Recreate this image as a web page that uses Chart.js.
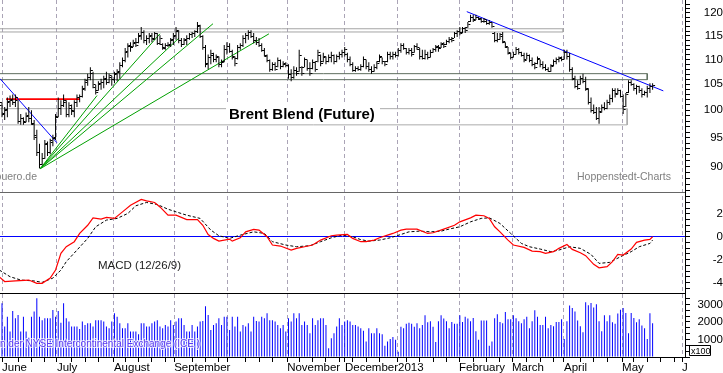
<!DOCTYPE html>
<html>
<head>
<meta charset="utf-8">
<script src="https://cdn.jsdelivr.net/npm/chart.js@4.4.1/dist/chart.umd.min.js"></script>
<style>
html, body { margin: 0; padding: 0; background: #fff; }
canvas { display: block; }
</style>
</head>
<body>
<canvas id="brent" width="723" height="373"></canvas>
<script>
// Brent Blend (Future) - daily bars, trading-day index (0 = 1 June 2012)
const firstDay = -1;

const highs = [
  102.4,101.5,100.6,102.4,102.8,103.0,103.0,101.9,99.3,98.7,
  99.6,100.6,100.0,98.2,96.4,93.9,92.3,94.6,94.3,94.8,
  95.5,99.3,102.4,101.9,103.0,101.9,101.5,101.1,101.9,103.0,
  103.0,104.7,106.1,107.1,108.4,107.5,104.9,105.6,106.1,106.7,
  107.5,107.1,106.7,107.5,108.0,109.4,110.4,112.4,113.4,113.6,
  114.1,114.5,115.6,116.9,116.2,115.1,115.6,115.6,115.8,115.6,
  115.1,113.4,113.4,113.6,114.5,115.6,116.9,116.2,114.5,114.5,
  115.1,115.6,115.8,116.2,118.0,117.4,115.1,113.0,111.0,112.0,
  111.4,111.0,110.6,110.0,113.0,113.6,113.4,112.0,110.6,113.0,
  113.4,115.1,115.6,116.2,116.2,115.6,114.7,114.5,113.4,112.4,
  111.0,110.0,109.4,109.4,110.4,110.0,109.6,109.4,109.0,108.0,
  108.6,108.4,112.0,108.6,110.4,110.0,109.4,110.0,109.6,112.0,
  111.0,111.4,110.6,111.0,111.6,111.0,111.0,111.6,112.0,112.6,
  111.4,110.6,109.4,108.6,108.6,109.0,110.6,110.0,109.4,108.6,
  109.0,109.6,111.0,110.4,109.6,111.6,111.6,111.6,111.6,112.4,
  113.4,113.4,112.4,112.4,112.4,113.0,113.4,112.4,112.0,112.0,
  111.6,112.0,112.4,113.0,113.0,113.6,113.6,114.1,114.7,114.7,
  115.8,116.2,116.9,116.9,116.9,118.0,119.6,119.6,119.6,119.1,
  118.9,118.9,118.4,118.4,118.0,115.8,115.6,115.6,115.8,113.6,
  112.6,111.4,111.6,112.6,112.4,111.6,111.4,111.4,111.0,110.4,
  109.4,110.6,110.0,109.6,109.0,108.4,109.0,110.0,110.4,110.6,
  110.6,112.0,112.0,111.4,108.4,106.7,105.8,106.7,107.1,106.5,
  104.2,102.4,101.1,100.6,100.6,101.1,101.5,102.0,103.0,104.2,
  104.2,104.2,103.9,103.0,103.3,105.8,105.8,105.2,104.9,104.7,
  104.2,103.7,104.7,105.2,105.2
];
const lows = [
  97.8,98.7,98.2,98.7,100.6,101.0,100.6,97.5,97.3,97.3,
  97.8,97.8,97.3,94.6,91.8,89.7,90.2,91.3,91.8,92.1,
  93.5,94.6,98.7,99.1,100.6,98.7,98.7,99.1,98.7,100.6,
  101.5,102.4,103.7,104.7,105.8,104.2,103.0,103.7,103.9,104.2,
  104.9,105.2,104.7,105.2,105.6,106.1,108.4,109.4,110.4,111.6,
  112.6,112.6,113.4,114.1,113.4,113.0,113.4,113.6,114.1,113.0,
  113.0,112.0,112.0,112.6,112.6,113.0,114.1,113.4,112.6,113.0,
  113.0,114.1,114.5,114.7,115.6,114.5,112.0,108.4,108.0,109.0,
  109.4,109.4,108.4,108.4,109.4,111.0,111.4,110.0,108.6,110.0,
  112.0,112.6,113.4,114.1,114.5,113.4,113.0,112.6,111.6,110.6,
  109.4,107.5,107.7,107.7,108.4,108.0,108.4,108.4,106.1,105.6,
  106.1,106.7,107.5,106.7,108.4,107.7,106.7,108.0,107.5,109.4,
  108.6,109.4,109.0,109.4,109.4,109.0,109.4,110.0,110.4,110.6,
  109.4,108.6,107.5,107.5,107.7,107.7,108.4,108.0,107.5,107.1,
  107.5,108.0,109.4,109.0,108.6,109.4,110.0,110.0,110.4,110.6,
  111.4,112.0,111.0,111.0,110.6,111.4,112.0,110.0,110.0,110.0,
  110.0,110.4,111.4,111.6,111.6,112.4,112.4,113.0,113.4,113.6,
  114.5,114.7,115.1,115.6,115.6,116.7,118.0,118.0,118.4,118.4,
  117.8,117.8,117.4,117.4,116.7,113.6,113.6,114.1,113.4,112.4,
  111.0,110.0,110.4,111.0,111.0,110.6,109.4,110.0,109.4,108.6,
  108.0,109.0,108.4,108.0,107.7,107.5,107.5,108.6,109.0,109.4,
  109.6,110.0,110.0,107.5,105.8,104.2,103.9,104.9,105.2,103.7,
  101.1,99.6,99.3,98.2,97.5,99.6,100.0,100.2,101.0,101.5,
  102.4,103.0,102.4,99.3,100.6,103.3,104.7,103.7,103.0,103.3,
  102.4,102.8,102.4,103.3,103.9
];
const opens = [
  98.5,101.0,99.3,100.0,101.5,102.0,101.5,102.0,98.0,98.5,
  98.0,99.0,98.5,97.5,95.5,92.5,90.5,91.5,93.8,92.5,
  94.5,95.0,99.0,100.5,101.0,101.6,99.3,100.5,100.0,101.5,
  102.5,102.8,104.0,105.5,106.5,107.2,104.5,103.9,105.0,105.5,
  106.0,105.5,106.5,106.0,107.0,107.5,108.8,109.8,111.5,112.8,
  112.8,113.5,113.6,115.0,115.8,114.0,114.6,115.0,114.5,115.5,
  113.5,113.2,112.5,113.0,113.0,114.0,115.0,116.0,114.0,113.2,
  114.0,114.6,115.3,115.5,116.0,117.0,115.0,112.5,109.0,110.5,
  111.0,110.0,110.5,109.0,109.5,112.2,112.8,111.8,110.5,110.2,
  112.5,113.0,114.6,115.2,115.8,115.0,114.0,113.6,113.0,112.0,
  110.8,109.8,108.0,109.0,108.6,109.8,108.6,109.0,108.8,107.0,
  106.5,107.8,107.6,108.5,108.5,110.0,108.2,108.2,109.4,109.6,
  111.0,109.6,110.5,109.6,110.4,111.0,109.6,110.6,111.2,111.6,
  111.2,110.0,109.0,107.8,108.2,108.0,108.6,110.0,108.6,108.0,
  107.6,108.4,109.6,110.4,109.6,109.6,111.2,110.8,111.2,111.0,
  112.0,113.0,112.4,111.6,112.0,111.6,112.8,112.2,110.6,110.2,
  111.2,110.5,111.6,112.2,112.6,112.6,113.2,113.2,113.8,114.3,
  114.6,115.5,116.0,115.8,116.6,116.8,118.2,119.2,118.6,119.0,
  118.6,118.2,118.3,117.8,118.0,115.6,114.0,114.2,115.4,113.6,
  112.6,111.4,110.5,111.2,112.2,111.6,111.0,110.0,111.0,109.8,
  109.0,109.2,110.0,109.0,108.4,108.0,107.7,108.8,109.6,110.0,
  110.2,110.0,111.6,110.6,108.0,106.0,104.6,105.0,106.3,105.6,
  104.0,101.5,100.0,99.6,98.6,99.8,100.6,100.4,101.6,102.4,
  103.8,103.2,103.8,102.8,100.8,103.4,105.4,105.0,104.2,104.6,
  103.8,103.0,103.4,104.2,104.6
];
const closes = [
  101.5,99.5,100.2,101.8,102.2,101.5,102.5,98.0,98.6,97.8,
  99.2,98.5,97.6,95.2,92.5,90.5,91.5,94.0,92.5,94.3,
  95.2,98.8,100.5,101.0,102.0,99.3,101.0,99.8,101.5,102.5,
  102.8,104.2,105.8,106.5,107.8,105.0,103.5,105.2,105.5,106.3,
  105.5,106.8,106.0,107.2,107.6,108.8,109.8,111.8,113.0,112.5,
  113.6,113.0,115.2,115.8,114.0,114.6,115.2,114.3,115.5,113.5,
  114.5,112.4,113.0,113.2,114.2,115.2,116.3,114.0,113.2,114.2,
  114.6,115.3,115.6,116.0,117.3,115.0,112.6,109.2,110.4,111.3,
  110.0,110.6,109.0,109.6,112.2,112.8,111.8,110.6,109.2,112.5,
  113.0,114.6,115.2,115.8,115.0,114.0,113.6,113.0,112.0,111.0,
  109.8,108.0,109.0,108.0,109.8,108.6,109.2,108.8,107.0,106.5,
  107.8,107.2,111.0,107.2,110.0,108.2,107.2,109.4,108.0,111.5,
  109.2,110.6,109.6,110.4,111.0,109.6,110.6,111.2,111.6,112.2,
  110.0,109.0,107.8,108.2,108.0,108.6,110.0,108.6,108.0,107.6,
  108.4,109.2,110.6,109.6,109.0,111.2,110.8,111.2,111.0,112.0,
  113.0,112.4,111.6,112.0,111.2,112.8,112.6,110.6,110.2,111.2,
  110.4,111.6,112.2,112.8,112.4,113.4,112.8,113.8,114.3,114.0,
  115.5,116.0,115.6,116.6,116.2,117.6,119.2,118.4,119.2,118.8,
  118.2,118.6,117.8,118.0,117.0,114.0,114.2,115.0,113.8,112.8,
  111.6,110.4,111.2,112.2,111.6,111.0,109.8,111.0,109.8,109.0,
  108.4,110.2,109.0,108.4,108.0,107.7,108.6,109.6,110.0,110.4,
  110.0,111.6,110.6,108.0,106.2,104.6,104.2,106.3,105.6,104.2,
  101.5,100.0,99.6,98.6,99.6,100.6,100.4,101.6,102.4,103.8,
  103.0,103.8,102.8,100.2,103.0,105.4,105.0,104.2,104.6,103.8,
  103.0,103.4,104.2,104.6,104.8
];
// volume in contracts x100
const volumes = [
  1800,3070,1740,2300,1450,2630,2210,2400,1450,2300,
  1450,1100,2300,2590,3350,2300,2100,2210,2210,2210,
  2680,2300,2630,1950,3070,2210,2020,1740,1740,1740,
  1600,2020,1830,1930,1930,1740,2100,2100,2100,2020,
  1740,1640,2020,2500,2300,1930,1640,1640,1930,1450,
  1450,1450,1300,1930,1930,1740,1740,1930,2020,2100,
  1740,1640,1830,1740,2100,1830,2020,2210,2210,1830,
  1450,1450,1830,1450,1740,2020,2060,2900,2400,1540,
  1830,1930,2210,1830,2300,2300,1540,2300,1740,2300,
  1450,1830,1740,1930,1450,2300,2060,2020,2300,2210,
  2500,2100,2100,2020,1830,1640,1830,1450,2210,2020,
  2500,2210,2500,1830,2020,1830,1360,2210,1830,2100,
  2210,2210,1830,500,1070,1360,1740,2210,1830,2020,
  2100,2020,1830,1830,1740,1640,1500,880,1640,1360,
  1360,1640,1360,1300,640,880,1030,1140,980,300,
  1720,1640,1900,1950,1900,1720,1930,1640,1830,2380,
  1980,2040,1720,850,2040,2380,2190,2040,1640,2000,
  1900,1900,2380,2000,2290,2190,2040,2230,1470,980,
  2080,2080,2080,640,880,2210,2440,2000,1930,2570,
  2150,2150,2380,2210,2040,1930,2150,2290,1640,2040,
  2670,2290,1830,1830,2290,1640,1830,1760,2000,2000,
  2150,1030,2040,2930,2790,2590,2080,1760,1410,3120,
  2950,3080,2830,3010,2040,1470,2380,2040,2380,1980,
  1900,2480,2690,2790,2510,1360,2510,2230,1980,2150,
  1790,1640,1030,2490,1930
];

// MACD (12/26/9)
const macdDays = [-1,1,5,10,13,15,18,20,22,24,27,29,32,34,37,39,42,45,48,52,54,57,59,62,65,69,73,75,77,79,
  81,85,86,89,91,94,96,99,101,104,108,110,113,116,119,123,125,129,131,134,136,139,141,144,146,149,151,155,159,161,
  165,169,171,175,177,180,182,184,186,189,191,195,198,201,203,206,208,211,213,216,218,221,223,226,228,230,232,235,237,240,242,243];
const macdLine = [-3.5,-3.9,-3.85,-3.77,-4.06,-4.06,-3.6,-2.9,-1.45,-0.87,-0.43,0.29,1.0,1.65,1.54,1.68,1.6,2.17,2.75,3.25,
  3.13,2.99,2.6,1.88,1.88,1.5,1.5,1.0,0.2,-0.14,-0.38,-0.2,-0.38,-0.09,0.43,0.64,0.58,0,-0.72,-0.81,
  -1.16,-1.01,-0.87,-0.72,-0.29,0.09,0.14,0.2,-0.14,-0.43,-0.43,-0.29,-0.09,0.14,0.29,0.58,0.67,0.67,0.29,0.35,
  0.67,1.0,1.3,1.65,1.88,1.83,1.6,0.87,0.43,-0.29,-0.72,-0.93,-1.25,-1.3,-1.45,-1.3,-1.01,-0.67,-1.1,-1.39,
  -1.65,-2.4,-2.7,-2.6,-2.17,-1.54,-1.59,-1.07,-0.49,-0.29,-0.23,0];
const signalDays = [-1,3,7,12,15,19,22,24,28,32,35,39,43,47,50,54,58,62,65,69,74,78,81,85,89,94,98,101,106,110,
  115,119,123,127,131,134,137,141,145,149,152,156,160,164,167,171,175,179,182,186,190,194,197,201,205,208,212,216,220,223,
  227,231,235,238,242,243];
const signalLine = [-2.9,-3.48,-3.77,-3.85,-3.97,-3.6,-2.9,-2.17,-1.16,-0.14,0.87,1.45,1.6,2.03,2.7,2.99,2.81,2.4,2.17,1.88,
  1.6,0.58,0.09,-0.14,0.14,0.43,0.29,-0.43,-0.72,-0.87,-0.78,-0.43,-0.09,0.14,0,-0.25,-0.38,-0.29,-0.09,0.2,
  0.43,0.49,0.43,0.49,0.67,0.87,1.3,1.6,1.65,1.16,0.29,-0.58,-0.87,-1.07,-1.3,-1.16,-0.87,-1.01,-1.54,-2.32,
  -2.23,-1.74,-1.3,-0.87,-0.58,-0.29];

// drawn-in analysis: zones, fan, trend lines
const zoneTop = [116.5, 107.1, 100.3];
const zoneBottom = [115.8, 105.9, 97.3];
const zoneEnd = [209.6, 241.0, 233.5];
const zoneColors = ['#a4a4a4', '#5e6e5e', '#ababab'];
const fanOrigin = [14.2, 89.6];
const fanEndDays = [35.5, 59.0, 66.1, 78.8, 99.7];
const fanEndPrices = [102.8, 115.4, 114.5, 117.6, 115.4];
const trendDays = [[-0.75, 20.5], [173.6, 247.0]];
const trendPrices = [[106.1, 94.1], [120.3, 103.7]];
const redDays = [1.5, 29.1];
const redPrice = 102.1;

// axes
const monthTicks = [0, 20.5, 41.8, 64.3, 84.4, 106.5, 128.1, 147.9, 170.7, 190.5, 209.9, 231.6, 254];
const monthLabels = ['June', 'July', 'August', 'September', '', 'November', 'December', '2013', 'February', 'March', 'April', 'May', 'J'];
const priceLabels = [90, 95, 100, 105, 110, 115, 120];
const macdLabels = [-4, -2, 0, 2];

const FONT = "'Liberation Sans', Arial, sans-serif";

const xTicks = monthTicks.slice();
for (let d = 1; d < 255; d += 5) {
  if (!monthTicks.some(m => Math.abs(m - d) < 2)) xTicks.push(d);
}
xTicks.sort((a, b) => a - b);
const priceTicks = [];
for (let p = 86; p <= 122; p++) priceTicks.push(p);
const macdTicks = [];
for (let k = -9; k <= 7; k++) macdTicks.push(k / 2);
const volTicks = [];
for (let k = 0; k <= 10; k++) volTicks.push(k * 1000 / 3);

const datasets = [];
datasets.push({
  type: 'bar', yAxisID: 'yP', grouped: false, barThickness: 1, inflateAmount: 0, backgroundColor: '#000',
  data: highs.map((h, k) => ({ x: firstDay + k, y: [lows[k], h] }))
});
datasets.push({
  type: 'line', yAxisID: 'yM', borderColor: '#ff0000', borderWidth: 1.2, pointRadius: 0,
  data: macdDays.map((d, k) => ({ x: d, y: macdLine[k] }))
});
datasets.push({
  type: 'line', yAxisID: 'yM', borderColor: '#000', borderWidth: 1, borderDash: [3, 2], pointRadius: 0,
  data: signalDays.map((d, k) => ({ x: d, y: signalLine[k] }))
});
datasets.push({
  type: 'bar', yAxisID: 'yV', grouped: false, barThickness: 1, inflateAmount: 0, backgroundColor: '#0000ff',
  data: volumes.map((v, k) => ({ x: firstDay + k, y: v }))
});
trendDays.forEach((d, k) => datasets.push({
  type: 'line', yAxisID: 'yP', borderColor: '#0000ff', borderWidth: 1, pointRadius: 0,
  data: [{ x: d[0], y: trendPrices[k][0] }, { x: d[1], y: trendPrices[k][1] }]
}));
fanEndDays.forEach((d, k) => datasets.push({
  type: 'line', yAxisID: 'yP', borderColor: '#00a000', borderWidth: 1, pointRadius: 0,
  data: [{ x: fanOrigin[0], y: fanOrigin[1] }, { x: d, y: fanEndPrices[k] }]
}));
datasets.push({
  type: 'line', yAxisID: 'yP', borderColor: '#ff0000', borderWidth: 1.6, pointRadius: 0,
  data: [{ x: redDays[0], y: redPrice }, { x: redDays[1], y: redPrice }]
});
zoneTop.forEach((t, k) => datasets.push({
  type: 'line', yAxisID: 'yP', borderColor: zoneColors[k], borderWidth: 1, pointRadius: 0,
  data: [{ x: -0.75, y: t }, { x: zoneEnd[k], y: t }, { x: zoneEnd[k], y: zoneBottom[k] }, { x: -0.75, y: zoneBottom[k] }]
}));

const overlay = {
  id: 'overlay',
  afterDatasetsDraw(chart) {
    const { ctx, chartArea: a, scales: { x, yP, yM } } = chart;
    ctx.save();
    // open / close ticks
    ctx.fillStyle = '#000';
    for (let k = 0; k < closes.length; k++) {
      const px = x.getPixelForValue(firstDay + k);
      ctx.fillRect(px - 2.5, Math.round(yP.getPixelForValue(opens[k])), 2, 1);
      ctx.fillRect(px + 0.5, Math.round(yP.getPixelForValue(closes[k])), 2, 1);
    }
    // panel separators
    ctx.fillStyle = '#666';
    ctx.fillRect(a.left, Math.round(yP.bottom), a.right - a.left, 1);
    ctx.fillStyle = '#000';
    ctx.fillRect(a.left, Math.round(yM.bottom), a.right - a.left, 1);
    // title
    ctx.fillStyle = '#fff';
    ctx.fillRect(226, 103, 154, 21);
    ctx.fillStyle = '#000';
    ctx.font = 'bold 15px ' + FONT;
    ctx.textBaseline = 'alphabetic';
    ctx.textAlign = 'left';
    ctx.fillText('Brent Blend (Future)', 229, 119);
    // credits
    ctx.font = '10.5px ' + FONT;
    ctx.fillStyle = '#808080';
    ctx.textAlign = 'right';
    ctx.fillText('puero.de', 37, 180);
    ctx.textAlign = 'left';
    ctx.fillText('Hoppenstedt-Charts', 577, 180);
    ctx.font = '11.5px ' + FONT;
    ctx.fillStyle = '#222';
    ctx.fillText('MACD (12/26/9)', 98, 269);
    const src = 'n der NYSE Intercontinental Exchange (ICE )';
    ctx.font = '10px ' + FONT;
    ctx.lineJoin = 'round';
    ctx.strokeStyle = 'rgba(255,255,255,0.75)';
    ctx.lineWidth = 2;
    ctx.strokeText(src, 0, 347);
    ctx.fillStyle = '#5a3cf0';
    ctx.fillText(src, 0, 347);
    // volume unit box
    ctx.strokeStyle = '#000';
    ctx.lineWidth = 1;
    ctx.strokeRect(689.5, 345.5, 21, 10);
    ctx.fillStyle = '#000';
    ctx.font = '9px ' + FONT;
    ctx.fillText('x100', 691, 354);
    ctx.restore();
  }
};

const yCommon = (weight, pad) => ({
  position: 'right', stack: 'panels', stackWeight: weight,
  border: { color: '#000' },
  afterFit: s => { s.width = 38; s.paddingTop = 0; s.paddingBottom = 0; },
  ticks: { autoSkip: false, crossAlign: 'far', padding: pad, color: '#000', font: { family: FONT, size: 11.5 } }
});

const yP = yCommon(192, 11);
Object.assign(yP, {
  type: 'logarithmic', min: 85.8, max: 122.95,
  grid: { drawOnChartArea: false, tickLength: 5, tickColor: '#000' },
  afterBuildTicks: s => { s.ticks = priceTicks.map(v => ({ value: v })); }
});
yP.ticks.callback = v => priceLabels.includes(v) ? String(v) : '';

const yM = yCommon(101, 20);
Object.assign(yM, {
  type: 'linear', min: -4.9, max: 3.9,
  grid: { drawOnChartArea: true, tickLength: 5, tickColor: '#000',
    color: c => (c.tick && c.tick.value === 0) ? '#0000ff' : 'rgba(0,0,0,0)' },
  afterBuildTicks: s => { s.ticks = macdTicks.map(v => ({ value: v })); }
});
yM.ticks.callback = v => macdLabels.includes(v) ? String(v) : '';

const yV = yCommon(64, 4);
Object.assign(yV, {
  type: 'linear', min: 0, max: 3650,
  grid: { drawOnChartArea: false, tickLength: 5, tickColor: '#000' },
  afterBuildTicks: s => { s.ticks = volTicks.map(v => ({ value: v })); }
});
yV.ticks.callback = (v, i) => (i > 0 && i % 3 === 0) ? String(Math.round(v)) : '';

new Chart(document.getElementById('brent'), {
  type: 'bar',
  data: { datasets },
  options: {
    responsive: false,
    animation: false,
    events: [],
    layout: { padding: 0 },
    plugins: { legend: { display: false }, tooltip: { enabled: false } },
    scales: {
      x: {
        type: 'linear', min: -0.75, max: 255.1, offset: false,
        grid: {
          offset: false, tickLength: 5, tickColor: '#000', tickBorderDash: [],
          color: c => (c.tick && monthTicks.includes(c.tick.value)) ? '#aaa4b6' : 'rgba(0,0,0,0)'
        },
        border: { color: '#000', dash: [4, 3] },
        afterBuildTicks: s => { s.ticks = xTicks.map(v => ({ value: v })); },
        afterFit: s => { s.height = 16; s.paddingLeft = 0; s.paddingRight = 0; },
        ticks: {
          autoSkip: false, maxRotation: 0, align: 'start', padding: -1, color: '#000',
          font: { family: FONT, size: 11.5 },
          callback: v => { const k = monthTicks.indexOf(v); return k < 0 ? '' : monthLabels[k]; }
        }
      },
      yP, yM, yV
    }
  },
  plugins: [overlay]
});
</script>
</body>
</html>
